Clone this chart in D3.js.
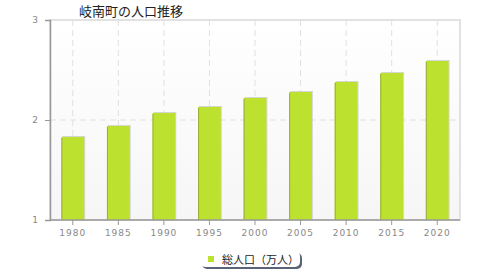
<!DOCTYPE html>
<html>
<head>
<meta charset="utf-8">
<script src="https://cdn.jsdelivr.net/npm/d3@7"></script>
<style>
body { margin: 0; background: #fff; }
svg { display: block; font-family: "DejaVu Sans", sans-serif; }
</style>
</head>
<body>
<div id="chart"></div>
<script>
let years = ["1980", "1985", "1990", "1995", "2000", "2005", "2010", "2015", "2020"];
let population = [1.83, 1.94, 2.07, 2.13, 2.22, 2.28, 2.38, 2.47, 2.59];
let yTicks = [1, 2, 3];
let title = "岐南町の人口推移";
let seriesName = "総人口（万人）";

let width = 480, height = 280;
let plotLeft = 50, plotRight = 460, plotTop = 20, plotBottom = 220;

let svg = d3.select("#chart").append("svg")
    .attr("width", width)
    .attr("height", height);

let defs = svg.append("defs");
let grad = defs.append("linearGradient")
    .attr("id", "bg").attr("x1", 0).attr("y1", 0).attr("x2", 0).attr("y2", 1);
grad.append("stop").attr("offset", "0%").attr("stop-color", "#ffffff");
grad.append("stop").attr("offset", "100%").attr("stop-color", "#f6f6f6");

let x = d3.scaleBand()
    .domain(years)
    .range([plotLeft, plotRight])
    .paddingInner(0.5)
    .paddingOuter(0.25);

let y = d3.scaleLinear()
    .domain([1, 3])
    .range([plotBottom, plotTop]);

// plot background
svg.append("rect")
    .attr("x", plotLeft).attr("y", plotTop)
    .attr("width", plotRight - plotLeft).attr("height", plotBottom - plotTop)
    .attr("fill", "url(#bg)")
    .attr("stroke", "#e2e2e2")
    .attr("stroke-width", 2);

// grid lines
svg.selectAll(".vgrid")
    .data(years)
    .join("line")
    .attr("class", "vgrid")
    .attr("x1", d => x(d) + x.bandwidth() / 2)
    .attr("x2", d => x(d) + x.bandwidth() / 2)
    .attr("y1", plotTop).attr("y2", plotBottom)
    .attr("stroke", "#e0e0e0")
    .attr("stroke-dasharray", "6,4");

svg.selectAll(".hgrid")
    .data(yTicks.slice(1, -1))
    .join("line")
    .attr("class", "hgrid")
    .attr("x1", plotLeft).attr("x2", plotRight)
    .attr("y1", d => y(d)).attr("y2", d => y(d))
    .attr("stroke", "#e0e0e0")
    .attr("stroke-dasharray", "6,4");

// bar shadows
svg.selectAll(".shadow")
    .data(population)
    .join("rect")
    .attr("class", "shadow")
    .attr("x", (d, i) => x(years[i]) + 1)
    .attr("y", d => y(d) - 1)
    .attr("width", x.bandwidth())
    .attr("height", d => plotBottom - y(d) + 1)
    .attr("fill", "#c8c8c0")
    .attr("opacity", 0.7);

// bars
svg.selectAll(".bar")
    .data(population)
    .join("rect")
    .attr("class", "bar")
    .attr("x", (d, i) => x(years[i]))
    .attr("y", d => y(d))
    .attr("width", x.bandwidth())
    .attr("height", d => plotBottom - y(d))
    .attr("fill", "#bce12e");

svg.selectAll(".barEdge")
    .data(population)
    .join("line")
    .attr("class", "barEdge")
    .attr("x1", (d, i) => x(years[i]) + 0.5)
    .attr("x2", (d, i) => x(years[i]) + 0.5)
    .attr("y1", d => y(d) + 1)
    .attr("y2", plotBottom)
    .attr("stroke", "#9aae3a")
    .attr("stroke-width", 1);

// axes
let yAxis = svg.append("g")
    .attr("transform", `translate(${plotLeft},0)`)
    .call(d3.axisLeft(y).tickValues(yTicks).tickFormat(d3.format("d")).tickSize(5).tickPadding(6));
let xAxis = svg.append("g")
    .attr("transform", `translate(0,${plotBottom})`)
    .call(d3.axisBottom(x).tickSize(5).tickPadding(5));

[yAxis, xAxis].forEach(g => {
    g.select(".domain").attr("stroke", "#999").attr("stroke-width", 1.5);
    g.selectAll(".tick line").attr("stroke", "#999");
    g.selectAll(".tick text")
        .attr("fill", "#888")
        .attr("font-size", 9)
        .attr("font-family", "DejaVu Sans, sans-serif")
        .attr("letter-spacing", 1);
});
xAxis.select(".domain").attr("d", `M${plotLeft},0H${plotRight}`);

// title
svg.append("text")
    .attr("x", 131).attr("y", 16)
    .attr("text-anchor", "middle")
    .attr("font-size", 13)
    .attr("font-family", "Noto Sans CJK JP, sans-serif")
    .attr("fill", "#222")
    .text(title);

// legend
let legend = svg.append("g").attr("transform", "translate(200,251)");
legend.append("rect")
    .attr("x", 2).attr("y", 2).attr("width", 100).attr("height", 16).attr("rx", 5)
    .attr("fill", "#5a6478");
legend.append("rect")
    .attr("x", 0).attr("y", 0).attr("width", 100).attr("height", 16).attr("rx", 5)
    .attr("fill", "#fff");
legend.append("rect")
    .attr("x", 8).attr("y", 5).attr("width", 6).attr("height", 6)
    .attr("fill", "#bce12e");
legend.append("text")
    .attr("x", 22).attr("y", 12.5)
    .attr("font-size", 11)
    .attr("font-family", "Noto Sans CJK JP, sans-serif")
    .attr("fill", "#222")
    .text(seriesName);
</script>
</body>
</html>
